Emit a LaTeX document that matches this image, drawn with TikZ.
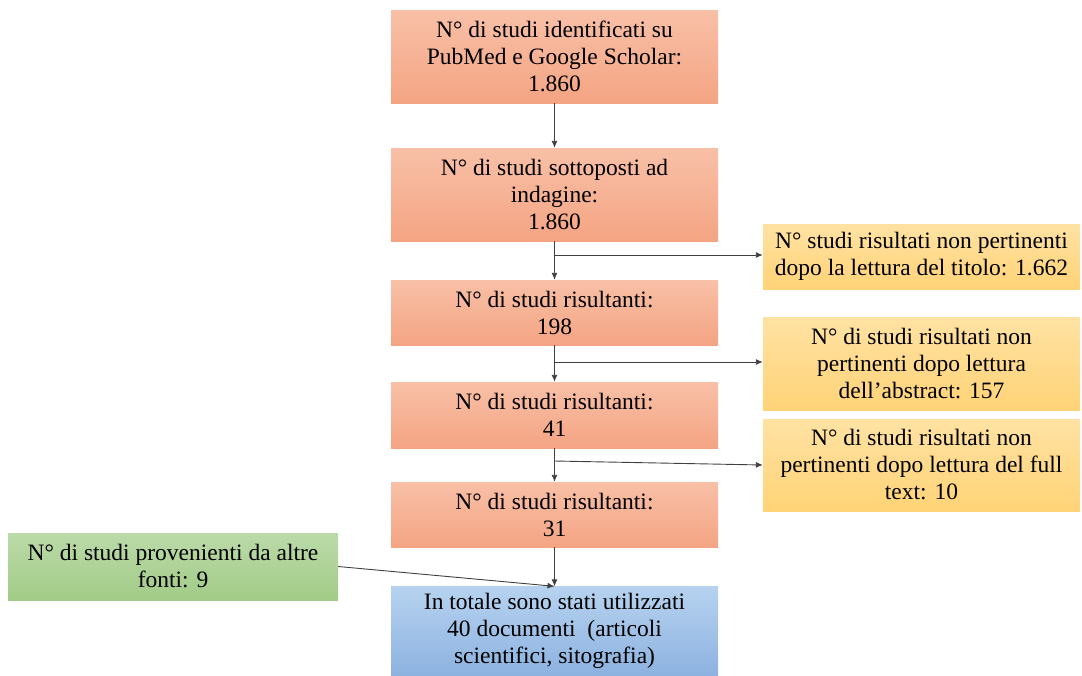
\documentclass[tikz,border=0pt]{standalone}
\usepackage{fontspec}
\setmainfont{Liberation Serif}
\usetikzlibrary{arrows.meta}
\definecolor{orT}{HTML}{F8C0A7}
\definecolor{orB}{HTML}{F4A483}
\definecolor{yeT}{HTML}{FFE2A3}
\definecolor{yeB}{HTML}{FFD377}
\definecolor{grT}{HTML}{BBDAA8}
\definecolor{grB}{HTML}{A2CB87}
\definecolor{blT}{HTML}{B6D2EF}
\definecolor{blB}{HTML}{8DB2E0}
\definecolor{linec}{HTML}{404040}
\tikzset{
  base/.style={rectangle, inner sep=0pt, align=center, text=black,
    font=\fontsize{23.5}{27}\selectfont},
  orbox/.style={base, top color=orT, bottom color=orB, minimum width=327pt},
  yebox/.style={base, top color=yeT, bottom color=yeB, minimum width=317pt},
  grbox/.style={base, top color=grT, bottom color=grB, minimum width=330pt, minimum height=67pt},
  blbox/.style={base, top color=blT, bottom color=blB, minimum width=327pt, minimum height=89pt},
  arr/.style={draw=linec, line width=0.9pt, -{Latex[length=7pt,width=6pt]}},
  ln/.style={draw=linec, line width=0.9pt}
}
\begin{document}
\begin{tikzpicture}[x=1pt,y=-1pt]
\useasboundingbox (0,0) rectangle (1082,675);
\node[orbox, minimum height=93pt] (b1) at (554.5,56.5) {N° di studi identificati su\\PubMed e Google Scholar:\\1.860};
\node[orbox, minimum height=93pt] (b2) at (554.5,194.5) {N° di studi sottoposti ad\\indagine:\\1.860};
\node[orbox, minimum height=65pt] (b3) at (554.5,312.5) {N° di studi risultanti:\\198};
\node[orbox, minimum height=66pt] (b4) at (554.5,415) {N° di studi risultanti:\\41};
\node[orbox, minimum height=65pt] (b5) at (554.5,514.5) {N° di studi risultanti:\\31};
\node[blbox] (b6) at (554.5,631) {In totale sono stati utilizzati\\40 documenti~ (articoli\\scientifici, sitografia)};
\node[yebox, minimum height=65pt] (r1) at (921.5,256.5) {N° studi risultati non pertinenti\\dopo la lettura del titolo: 1.662};
\node[yebox, minimum height=93pt] (r2) at (921.5,363.5) {N° di studi risultati non\\pertinenti dopo lettura\\dell’abstract: 157};
\node[yebox, minimum height=92pt] (r3) at (921.5,465) {N° di studi risultati non\\pertinenti dopo lettura del full\\text: 10};
\node[grbox] (g) at (173,566.5) {N° di studi provenienti da altre\\fonti: 9};
\coordinate (j1) at (554.5,255);
\coordinate (j2) at (554.5,362);
\coordinate (j3) at (554.5,461);
\draw[arr] (b1) -- (b2);
\draw[arr] (b2) -- (b3);
\draw[arr] (b3) -- (b4);
\draw[arr] (b4) -- (b5);
\draw[arr] (b5) -- (b6);
\draw[arr] (j1) -- (j1 -| r1.west);
\draw[arr] (j2) -- (j2 -| r2.west);
\draw[arr] (j3) -- (r3.west);
\draw[arr] (g.east) -- (b6.north);
\end{tikzpicture}
\end{document}
